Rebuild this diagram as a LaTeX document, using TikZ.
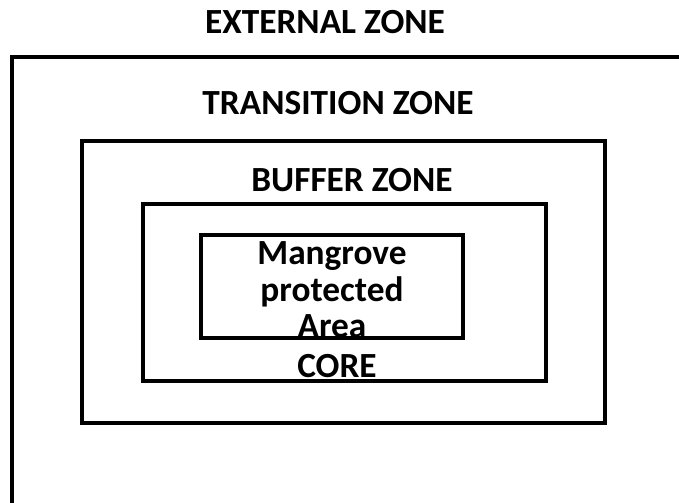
\documentclass[tikz,border=0pt]{standalone}
\usepackage{fontspec}
\setmainfont{Carlito}
\usetikzlibrary{positioning}

\begin{document}
\begin{tikzpicture}[x=0.75pt,y=-0.75pt,
    zone/.style={draw=black,line width=2.6pt,minimum width=#1,inner sep=0pt},
    lbl/.style={font=\bfseries\fontsize{26.5}{27.5}\selectfont}]
    \useasboundingbox (0,0) rectangle (679,503);

    % Outer frame (runs off the page)
    \begin{scope}
    \clip (0,0) rectangle (679,503);
    \draw[line width=2.6pt] (700,57) -- (12,57) -- (12,520);
    \end{scope}
    \node[lbl] (external) at (325,22) {EXTERNAL ZONE};

    % Transition zone
    \node[zone=523*0.75pt,minimum height=282*0.75pt] (transition) at (343.5,282) {};
    \node[lbl] (translbl) at (338,103) {TRANSITION ZONE};

    % Buffer zone
    \node[zone=403*0.75pt,minimum height=177*0.75pt] (buffer) at (344.5,292.5) {};
    \node[lbl] (bufflbl) at (352,180) {BUFFER ZONE};

    % Core
    \node[zone=262*0.75pt,minimum height=103*0.75pt] (core) at (332,286.5) {};
    \node[lbl,align=center] (mangrove) at (332,290) {Mangrove\\protected\\Area};
    \node[lbl] (corelbl) at (337,366) {CORE};
\end{tikzpicture}
\end{document}
